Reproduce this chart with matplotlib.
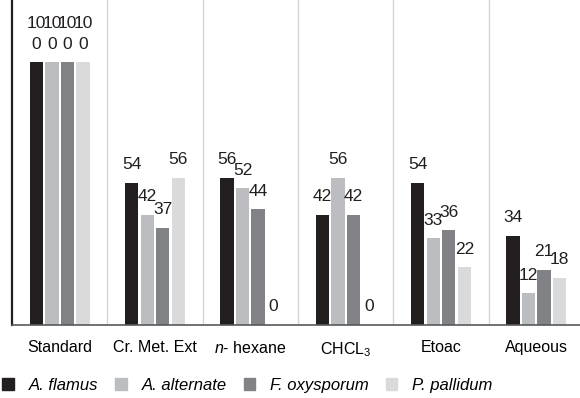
import numpy as np
import matplotlib
matplotlib.use('Agg')
import matplotlib.pyplot as plt
from matplotlib.patches import Patch

plt.rcParams['font.family'] = ['Liberation Sans', 'DejaVu Sans']
plt.rcParams['mathtext.fontset'] = 'custom'
plt.rcParams['mathtext.rm'] = 'Liberation Sans'
plt.rcParams['mathtext.it'] = 'Liberation Sans:italic'

categories = ['Standard', 'Cr. Met. Ext', r'$\it{n}$- hexane', r'CHCL$_3$', 'Etoac', 'Aqueous']
series = ['A. flamus', 'A. alternate', 'F. oxysporum', 'P. pallidum']
flamus = [100, 54, 56, 42, 54, 34]
alternate = [100, 42, 52, 56, 33, 12]
oxysporum = [100, 37, 44, 42, 36, 21]
pallidum = [100, 56, 0, 0, 22, 18]
colors = ['#231f20', '#bcbdc0', '#808285', '#d9dadb']

fig = plt.figure(figsize=(5.8, 3.98), dpi=100)
ax = fig.add_axes([12 / 580, 73 / 398, 572 / 580, 325 / 398])

x = np.arange(len(categories))
w = 0.163
offsets = [-1.5, -0.5, 0.5, 1.5]
for vals, off, c in zip([flamus, alternate, oxysporum, pallidum], offsets, colors):
    bx = x + off * w
    ax.bar(bx, vals, width=w * 0.85, color=c, zorder=2)
    for xi, v in zip(bx, vals):
        lab = '10\n0' if v == 100 else str(v)
        ax.text(xi, v + 4, lab, ha='center', va='bottom', fontsize=12.5,
                linespacing=1.45, color='#231f20', clip_on=False)

for s in np.arange(0.5, len(categories) - 0.5, 1):
    ax.axvline(s, color='#d4d4d4', lw=1, zorder=1)

ax.set_xlim(-0.5, len(categories) - 0.5)
ax.set_ylim(0, 123.6)
ax.set_yticks([])
ax.set_xticks(x)
ax.set_xticklabels(categories, fontsize=11.5)
ax.tick_params(axis='x', length=0, pad=11)
for sp in ['top', 'right']:
    ax.spines[sp].set_visible(False)
ax.spines['left'].set_color('#231f20')
ax.spines['left'].set_linewidth(1.6)
ax.spines['bottom'].set_color('#58595b')
ax.spines['bottom'].set_linewidth(1.2)

handles = [Patch(color=c) for c in colors]
fig.legend(handles, series, loc='lower left', bbox_to_anchor=(-0.022, -0.025), ncol=4,
           frameon=False, prop={'style': 'italic', 'size': 12},
           handlelength=0.7, handleheight=0.7, handletextpad=0.9, columnspacing=1.0)

plt.savefig('out.png', dpi=100)
